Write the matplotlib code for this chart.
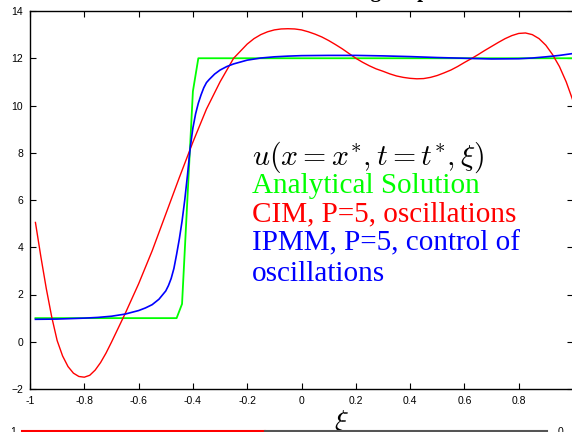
import numpy as np
import matplotlib
matplotlib.use('Agg')
import matplotlib.pyplot as plt

plt.rcParams['mathtext.fontset'] = 'cm'

# analytical solution (step)
xi_exact = [-0.98, -0.46, -0.44, -0.40, -0.38, 1.0]
u_exact = [1.0, 1.0, 1.6, 10.6, 12.0, 12.0]

# CIM, P=5
xi_cim = [-0.98, -0.96, -0.94, -0.92, -0.90, -0.88, -0.86, -0.84, -0.82, -0.80,
          -0.78, -0.76, -0.74, -0.72, -0.70, -0.675, -0.65, -0.6, -0.55, -0.5,
          -0.45, -0.4, -0.35, -0.3, -0.25, -0.2, -0.175, -0.15, -0.125, -0.1,
          -0.075, -0.05, -0.025, 0.0, 0.025, 0.05, 0.075, 0.1, 0.125, 0.15,
          0.175, 0.2, 0.225, 0.25, 0.275, 0.3, 0.325, 0.35, 0.375, 0.4,
          0.425, 0.45, 0.475, 0.5, 0.525, 0.55, 0.575, 0.6, 0.625, 0.65,
          0.675, 0.7, 0.725, 0.75, 0.775, 0.8, 0.825, 0.85, 0.875, 0.9,
          0.925, 0.95, 0.975, 1.0]
u_cim = [5.05, 3.6, 2.25, 1.05, 0.05, -0.6, -1.05, -1.33, -1.47, -1.5,
         -1.42, -1.2, -0.88, -0.48, -0.02, 0.58, 1.18, 2.45, 3.85, 5.4,
         6.95, 8.45, 9.85, 11.0, 12.0, 12.6, 12.83, 13.0, 13.12, 13.2,
         13.24, 13.25, 13.24, 13.2, 13.12, 13.02, 12.9, 12.75, 12.58, 12.4,
         12.2, 12.0, 11.83, 11.68, 11.55, 11.45, 11.34, 11.25, 11.19, 11.15,
         11.13, 11.14, 11.19, 11.27, 11.38, 11.5, 11.65, 11.82, 11.98, 12.15,
         12.33, 12.5, 12.67, 12.83, 12.96, 13.05, 13.07, 13.0, 12.83, 12.55,
         12.15, 11.65, 11.0, 10.2]

# IPMM, P=5
xi_ipmm = [-0.98, -0.9, -0.8, -0.75, -0.7, -0.65, -0.6, -0.575, -0.55, -0.525,
           -0.5, -0.49, -0.48, -0.47, -0.46, -0.45, -0.44, -0.43, -0.42, -0.41,
           -0.40, -0.39, -0.38, -0.37, -0.36, -0.35, -0.34, -0.32, -0.3, -0.275,
           -0.25, -0.2, -0.15, -0.1, -0.05, 0.0, 0.1, 0.2, 0.3, 0.4,
           0.5, 0.6, 0.7, 0.8, 0.85, 0.9, 0.95, 1.0]
u_ipmm = [0.95, 0.96, 1.0, 1.03, 1.08, 1.17, 1.32, 1.43, 1.57, 1.8,
          2.15, 2.38, 2.68, 3.1, 3.7, 4.35, 5.1, 6.0, 7.05, 8.2,
          9.05, 9.65, 10.1, 10.45, 10.75, 10.97, 11.1, 11.33, 11.5, 11.65,
          11.76, 11.92, 12.01, 12.06, 12.09, 12.11, 12.12, 12.12, 12.1, 12.07,
          12.03, 12.0, 11.97, 11.98, 12.01, 12.06, 12.12, 12.2]

xticks = [-1, -0.8, -0.6, -0.4, -0.2, 0, 0.2, 0.4, 0.6, 0.8]
xticklabels = ['-1', '-0.8', '-0.6', '-0.4', '-0.2', '0', '0.2', '0.4', '0.6', '0.8']
yticks = [-2, 0, 2, 4, 6, 8, 10, 12, 14]

# lower panel (only its top edge is visible)
strip_x = [[-1.0, -0.074], [-0.074, 1.0]]
strip_y = [[1, 1], [1, 1]]
strip_c = ['red', '#555555']

fig = plt.figure(figsize=(5.72, 4.32), dpi=100)
ax = fig.add_axes([30/572, 43/432, 543/572, 378/432])

ax.plot(xi_exact, u_exact, color=(0, 1, 0), lw=1.3)
ax.plot(xi_cim, u_cim, color=(1, 0, 0), lw=1.0)
ax.plot(xi_ipmm, u_ipmm, color=(0, 0, 1), lw=1.2)

ax.set_xlim(-1, 1)
ax.set_ylim(-2, 14)
ax.set_xticks(xticks)
ax.set_xticklabels(xticklabels)
ax.set_yticks(yticks)
ax.tick_params(direction='in', top=True, right=True, length=4, width=0.8,
               labelsize=7.5, pad=5)
for lab in ax.get_xticklabels() + ax.get_yticklabels():
    lab.set_family('Liberation Sans')
for s in ax.spines.values():
    s.set_linewidth(1.0)

ax.set_xlabel(r'$\xi$', fontsize=21)
ax.xaxis.set_label_coords((341 - 30) / 543, -0.05)

serif = 'Liberation Serif'
ax.text(-0.182, 7.5, r'$u(x = x^{*}, t = t^{*}, \xi)$', fontsize=21.5, va='baseline')
ax.text(-0.182, 6.3, 'Analytical Solution', color=(0, 1, 0), fontsize=21,
        family=serif, va='baseline')
ax.text(-0.182, 5.08, 'CIM, P=5, oscillations', color=(1, 0, 0), fontsize=21,
        family=serif, va='baseline')
ax.text(-0.182, 3.85, 'IPMM, P=5, control of', color=(0, 0, 1), fontsize=21,
        family=serif, va='baseline')
ax.text(-0.182, 2.58, 'oscillations', color=(0, 0, 1), fontsize=21,
        family=serif, va='baseline')

# title, mostly cut off by the top edge
fig.text(209/572, 435/432, 'Solution smoothing at specific time', fontsize=15,
         family=serif, fontweight='bold', ha='left', va='baseline')

ax2 = fig.add_axes([22/572, -0.1, 525/572, 0.1 + 1/432])
for xs, ys, c in zip(strip_x, strip_y, strip_c):
    ax2.plot(xs, ys, color=c, lw=1.5, clip_on=False)
ax2.set_xlim(-1, 1)
ax2.set_ylim(0, 1)
ax2.axis('off')
fig.text(10/572, 0, '1', fontsize=7.5, family='Liberation Sans', va='center')
fig.text(558/572, 0, '0', fontsize=7.5, family='Liberation Sans', va='center')

fig.savefig('out.png', dpi=100)
